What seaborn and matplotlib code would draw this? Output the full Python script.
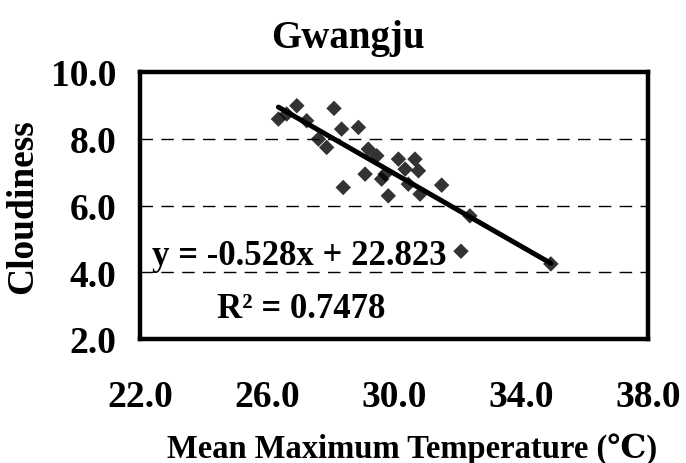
import matplotlib
matplotlib.use("Agg")
import matplotlib.pyplot as plt
import seaborn as sns
import numpy as np
import pandas as pd

# ---- data ----
temperature = [26.36, 26.94, 26.62, 27.25, 28.11, 27.62, 27.88, 28.35, 28.88,
               28.40, 29.09, 29.19, 29.46, 29.82, 29.72, 30.14, 30.35, 30.66,
               30.77, 30.82, 30.45, 31.50, 32.39, 32.11, 34.94, 29.61]
cloudiness = [8.59, 8.99, 8.74, 8.54, 8.91, 7.99, 7.74, 8.29, 8.34,
              6.54, 6.94, 7.69, 7.49, 6.29, 6.94, 7.39, 7.09, 7.39,
              7.04, 6.34, 6.64, 6.61, 5.69, 4.63, 4.25, 6.79]
x_ticks = [22.0, 26.0, 30.0, 34.0, 38.0]
y_ticks = [2.0, 4.0, 6.0, 8.0, 10.0]
grid_levels = [4.0, 6.0, 8.0]
title = "Gwangju"
x_label = "Mean Maximum Temperature (\u2103)"
y_label = "Cloudiness"
eq_text = "y = -0.528x + 22.823"
r2_text = "R\u00b2 = 0.7478"

df = pd.DataFrame({"temp": temperature, "cloud": cloudiness})

sns.set_theme(style="white")
plt.rcParams["font.family"] = ["Liberation Serif", "DejaVu Serif", "DejaVu Sans"]
plt.rcParams["font.weight"] = "bold"

fig = plt.figure(figsize=(6.86, 4.64), dpi=100)
ax = fig.add_axes([140 / 686, 1 - 340 / 464, 508 / 686, 267 / 464])

for lv in grid_levels:
    ax.axhline(lv, color="black", lw=1.0, linestyle=(0, (9, 6)), zorder=1)

sns.regplot(data=df, x="temp", y="cloud", ax=ax, ci=None, marker="D",
            color="black", truncate=True,
            scatter_kws={"s": 62, "edgecolor": "none", "zorder": 3},
            line_kws={"lw": 3.6, "color": "black", "zorder": 4})

ax.set_xlim(x_ticks[0], x_ticks[-1])
ax.set_ylim(y_ticks[0], y_ticks[-1])
ax.set_xticks(x_ticks)
ax.set_yticks(y_ticks)
ax.set_xticklabels([f"{v:.1f}" for v in x_ticks])
ax.set_yticklabels([f"{v:.1f}" for v in y_ticks])
ax.tick_params(axis="x", direction="in", length=5, width=1, pad=29,
               labelsize=27, colors="black")
ax.tick_params(axis="y", direction="out", length=4, width=1, pad=13,
               labelsize=27, colors="black")
for lab in ax.get_xticklabels() + ax.get_yticklabels():
    lab.set_fontweight("bold")

for sp in ax.spines.values():
    sp.set_visible(True)
    sp.set_color("black")
    sp.set_linewidth(3.2)

ax.set_xlabel(x_label, fontsize=23.5, fontweight="bold", color="black")
ax.set_ylabel(y_label, fontsize=27, fontweight="bold", color="black")
ax.xaxis.set_label_coords(0.535, -0.35)
ax.yaxis.set_label_coords(-0.197, 0.50)

ax.text(22.38, 4.25, eq_text, fontsize=25, fontweight="bold", color="black",
        va="baseline", ha="left", zorder=5)
ax.text(24.43, 2.66, r2_text, fontsize=25, fontweight="bold", color="black",
        va="baseline", ha="left", zorder=5)

fig.text(348 / 686, 1 - 48 / 464, title, fontsize=28, fontweight="bold",
         color="black", ha="center", va="baseline")

fig.savefig("out.png", dpi=100, facecolor="white")
